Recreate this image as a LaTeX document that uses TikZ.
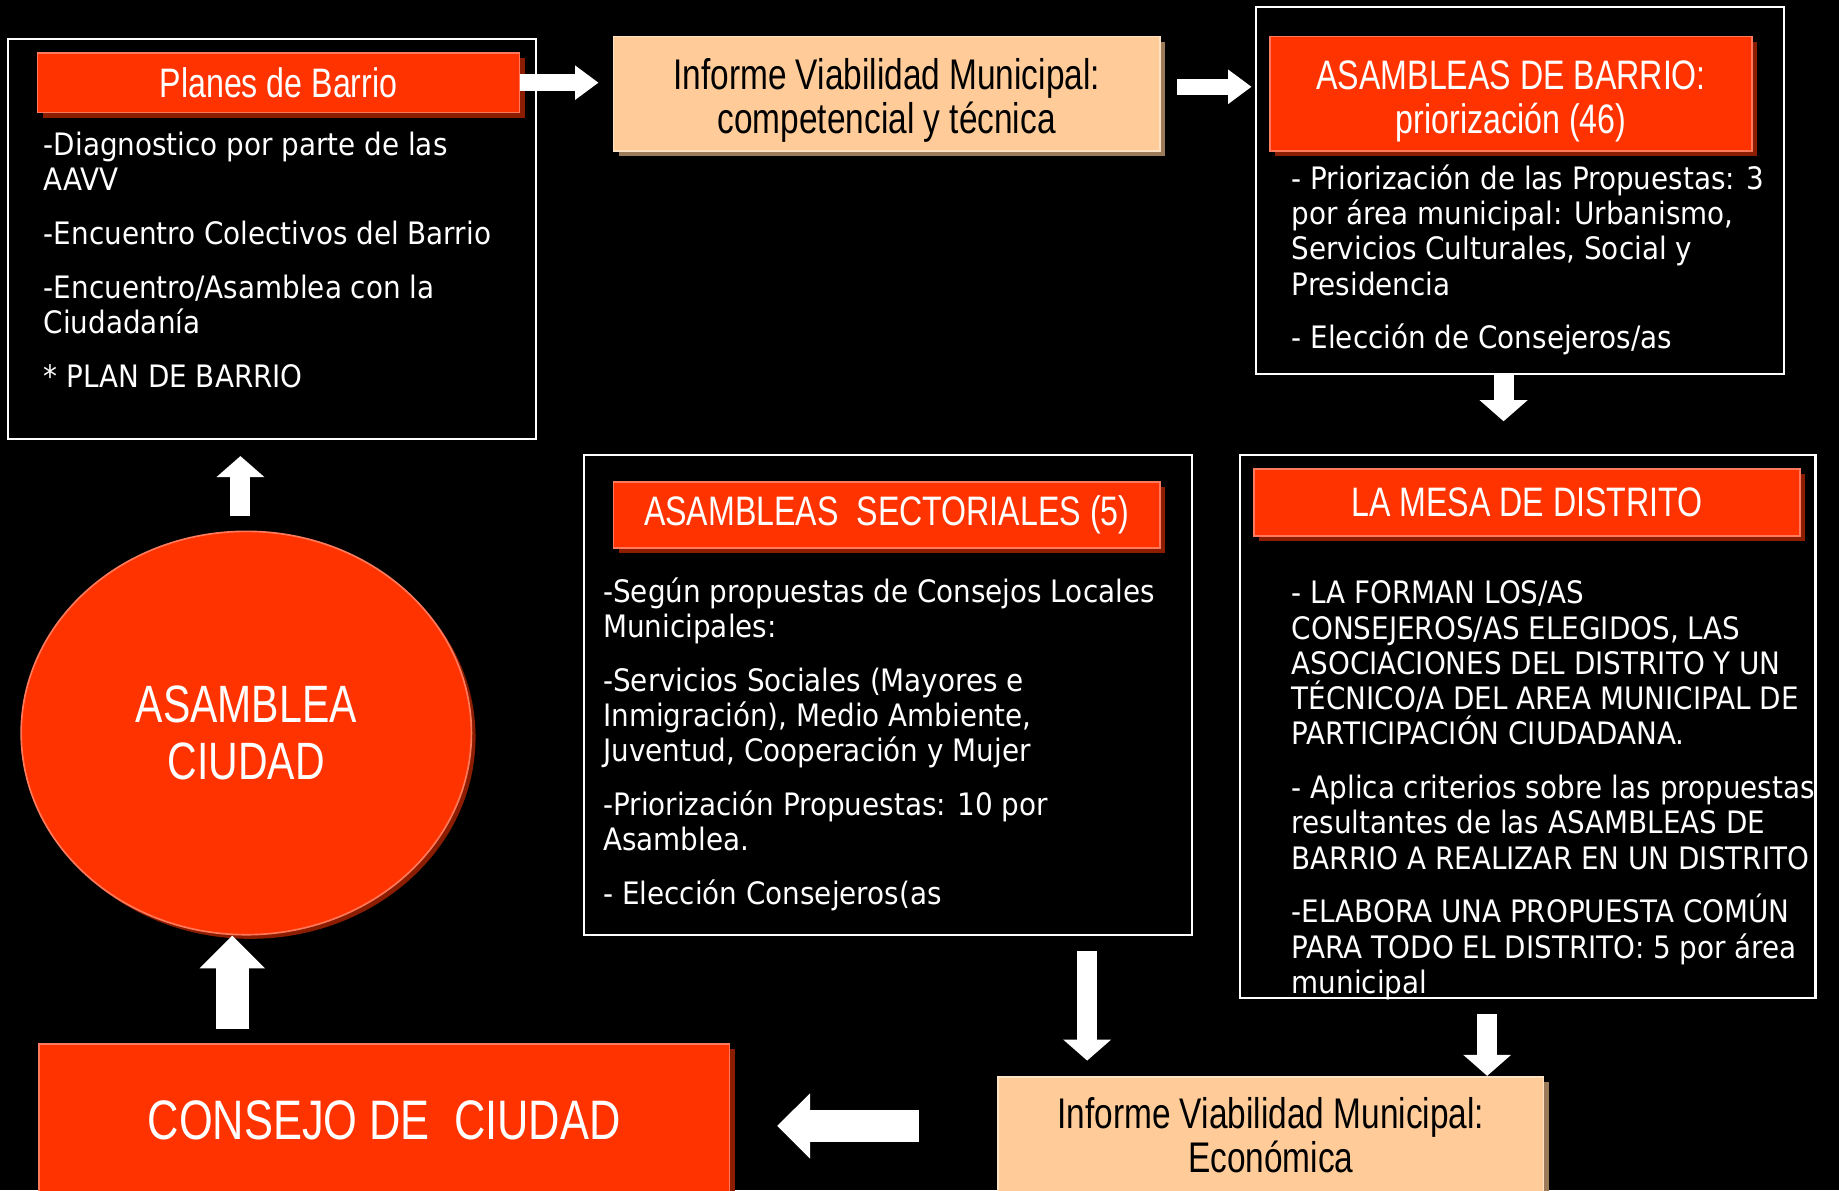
\documentclass[tikz,border=0pt]{standalone}
\usepackage{fontspec}
\newfontfamily\cuerpo[FakeStretch=0.9]{DejaVu Sans}
\newfontfamily\titulo[FakeStretch=0.78]{Liberation Sans}
\usetikzlibrary{arrows.meta,shapes.geometric,shadows,positioning}

\definecolor{rojo}{HTML}{FF3300}
\definecolor{rojoclaro}{HTML}{FF7A5C}
\definecolor{rojosombra}{HTML}{8C1D00}
\definecolor{melocoton}{HTML}{FFCC99}
\definecolor{melocotonclaro}{HTML}{FFE2C4}
\definecolor{melocotonsombra}{HTML}{9C7B5A}

\newcommand{\bajar}{\rule{0pt}{21.5pt}}

\tikzset{
  marco/.style={draw=white, line width=1pt, rectangle, inner sep=0pt},
  banda/.style={rectangle, fill=rojo, draw=rojoclaro, line width=0.8pt, text=white,
    inner sep=0pt, align=center, font=\titulo\fontsize{20}{21.6}\selectfont,
    drop shadow={shadow xshift=2.5pt, shadow yshift=-2.5pt, fill=rojosombra, opacity=1}},
  informe/.style={rectangle, fill=melocoton, draw=melocotonclaro, line width=0.8pt, text=black,
    inner sep=0pt, align=center, font=\titulo\fontsize{20.8}{21.6}\selectfont,
    drop shadow={shadow xshift=2.5pt, shadow yshift=-2.5pt, fill=melocotonsombra, opacity=1}},
  texto/.style={text=white, align=left, inner sep=0pt, anchor=north west,
    font=\cuerpo\fontsize{15}{17.1}\selectfont},
  flechita/.style={draw=white, line width=0.28cm, -{Triangle[width=0.56cm,length=0.4cm]}},
  flecha/.style={draw=white, line width=0.34cm, -{Triangle[width=0.8cm,length=0.36cm]}},
  flechagorda/.style={draw=white, line width=0.56cm, -{Triangle[width=1.08cm,length=0.56cm]}}
}

\begin{document}
\begin{tikzpicture}[x=0.02cm,y=-0.02cm]

  \fill[black] (0,0) rectangle (1568,1015);
  \useasboundingbox (0,0) rectangle (1568,1015);

  % planes de barrio
  \node [marco, minimum width=9cm, minimum height=6.82cm] at(232,203.5) (planes) {};
  \node [banda, minimum width=8.22cm, minimum height=1.02cm] at(237.5,70.5) (planestit) {Planes de Barrio};
  \node [texto] at(37,112) (planestxt) {-Diagnostico por parte de las\\AAVV\\[9pt]-Encuentro Colectivos del Barrio\\[9pt]-Encuentro/Asamblea con la\\Ciudadanía\\[9pt]{}* PLAN DE BARRIO};

  \node [informe, minimum width=9.32cm, minimum height=1.96cm] at(756,80) (inf1) {\bajar Informe Viabilidad Municipal:\\competencial y técnica};

  % asambleas de barrio
  \node [marco, minimum width=9cm, minimum height=6.26cm] at(1296,162.5) (barrio) {};
  \node [banda, minimum width=8.22cm, minimum height=1.96cm] at(1288.5,80) (barriotit) {\bajar ASAMBLEAS DE BARRIO:\\priorización (46)};
  \node [texto] at(1101,140) (barriotxt) {- Priorización de las Propuestas: 3\\por área municipal: Urbanismo,\\Servicios Culturales, Social y\\Presidencia\\[9pt]- Elección de Consejeros/as};

  % sectoriales
  \node [marco, minimum width=10.36cm, minimum height=8.18cm] at(757,592.5) (sect) {};
  \node [banda, minimum width=9.32cm, minimum height=1.12cm] at(756,439) (secttit) {ASAMBLEAS~~SECTORIALES (5)};
  \node [texto] at(514,492) (secttxt) {-Según propuestas de Consejos Locales\\Municipales:\\[9pt]-Servicios Sociales (Mayores e\\Inmigración), Medio Ambiente,\\Juventud, Cooperación y Mujer\\[9pt]-Priorización Propuestas: 10 por\\Asamblea.\\[9pt]- Elección Consejeros(as};

  % mesa de distrito
  \node [marco, minimum width=9.82cm, minimum height=9.26cm] at(1302.5,619.5) (mesa) {};
  \node [banda, minimum width=9.32cm, minimum height=1.14cm] at(1302,428.5) (mesatit) {LA MESA DE DISTRITO};
  \node [texto] at(1101,495) (mesatxt) {- LA FORMAN LOS/AS\\CONSEJEROS/AS ELEGIDOS, LAS\\ASOCIACIONES DEL DISTRITO Y UN\\TÉCNICO/A DEL AREA MUNICIPAL DE\\PARTICIPACIÓN CIUDADANA.\\[9pt]- Aplica criterios sobre las propuestas\\resultantes de las ASAMBLEAS DE\\BARRIO A REALIZAR EN UN DISTRITO\\[9pt]-ELABORA UNA PROPUESTA COMÚN\\PARA TODO EL DISTRITO: 5 por área\\municipal};

  \node [ellipse, fill=rojo, draw=rojoclaro, line width=0.8pt, text=white, inner sep=0pt, align=center,
    minimum width=7.68cm, minimum height=6.88cm, font=\titulo\fontsize{25.5}{28}\selectfont,
    drop shadow={shadow xshift=2pt, shadow yshift=-2pt, fill=rojosombra, opacity=1}] at(210,625) (ciudad) {ASAMBLEA\\CIUDAD};

  \node [banda, minimum width=11.78cm, minimum height=2.6cm, font=\titulo\fontsize{27}{30}\selectfont] at(327.5,955) (consejo) {CONSEJO DE~~CIUDAD};
  \node [informe, minimum width=9.3cm, minimum height=2cm] at(1083.5,968) (inf2) {Informe Viabilidad Municipal:\\Económica};

  % flechas
  \draw[flechita, shorten >=0.24cm] (planestit.east) -- (planestit.east -| inf1.west);
  \coordinate (c2) at ([yshift=0.12cm]inf1.east);
  \draw[flechita, shorten <=0.28cm, shorten >=0.06cm] (c2) -- (c2 -| barrio.west);
  \coordinate (c3) at ([xshift=-0.28cm]barrio.south);
  \draw[flecha, shorten >=0.56cm] (c3) -- (c3 |- mesa.north);
  \coordinate (c4) at ([xshift=-0.1cm]ciudad.north);
  \draw[flecha, shorten <=0.24cm, shorten >=0.28cm] (c4) -- (c4 |- planes.south);
  \coordinate (c5) at ([xshift=-0.24cm]ciudad.south);
  \draw[flechagorda, shorten <=0.24cm] (c5 |- consejo.north) -- (c5);
  \coordinate (c6) at ([yshift=-0.1cm]consejo.east);
  \draw[flechagorda, shorten <=1.34cm, shorten >=0.8cm] (c6 -| inf2.west) -- (c6);
  \coordinate (c7) at ([xshift=3.4cm]sect.south);
  \draw[flecha, shorten <=0.26cm, shorten >=0.26cm] (c7) -- (c7 |- inf2.north);
  \coordinate (c8) at ([xshift=-0.69cm]mesa.south);
  \draw[flecha, shorten <=0.26cm] (c8) -- (c8 |- inf2.north);

\end{tikzpicture}
\end{document}
